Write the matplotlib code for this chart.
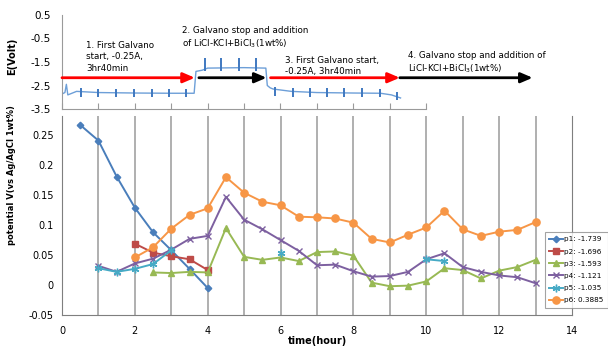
#!/usr/bin/env python3
"""potential_vs_time.py"""

# Potential of six probes vs. time, with the galvano E(Volt) trace inset on top

import numpy as np
import matplotlib
matplotlib.use("Agg")
import matplotlib.pyplot as plt

nan = np.nan

# Main chart data (time in hours, potential in V)
p1_time = [0.5, 1, 1.5, 2, 2.5, 3, 3.5, 4]
p1_vals = [0.267, 0.241, 0.181, 0.129, 0.088, 0.058, 0.027, -0.005]

p2_time = [2, 2.5, 3, 3.5, 4]
p2_vals = [0.069, 0.054, 0.048, 0.043, 0.025]

p3_time = [2.5, 3, 3.5, 4, 4.5, 5, 5.5, 6, 6.5, 7, 7.5, 8, 8.5, 9, 9.5, 10,
           10.5, 11, 11.5, 12, 12.5, 13]
p3_vals = [0.021, 0.020, 0.022, 0.021, 0.095, 0.047, 0.042, 0.046, 0.040,
           0.055, 0.056, 0.049, 0.004, -0.002, -0.001, 0.006, 0.028, 0.025,
           0.011, 0.024, 0.030, 0.042]

p4_time = [1, 1.5, 2, 2.5, 3, 3.5, 4, 4.5, 5, 5.5, 6, 6.5, 7, 7.5, 8, 8.5,
           9, 9.5, 10, 10.5, 11, 11.5, 12, 12.5, 13]
p4_vals = [0.032, 0.022, 0.036, 0.044, 0.059, 0.077, 0.082, 0.147, 0.109,
           0.093, 0.075, 0.057, 0.033, 0.034, 0.023, 0.014, 0.015, 0.022,
           0.043, 0.053, 0.030, 0.022, 0.016, 0.013, 0.003]

p5_time = [1, 1.5, 2, 2.5, 3, 3.5, 6, 6.5, 10, 10.5]
p5_vals = [0.028, 0.022, 0.027, 0.035, 0.058, nan, 0.054, nan, 0.043, 0.040]

p6_time = [2, 2.5, 3, 3.5, 4, 4.5, 5, 5.5, 6, 6.5, 7, 7.5, 8, 8.5, 9, 9.5,
           10, 10.5, 11, 11.5, 12, 12.5, 13]
p6_vals = [0.046, 0.063, 0.094, 0.117, 0.128, 0.180, 0.154, 0.139, 0.133,
           0.114, 0.113, 0.111, 0.104, 0.077, 0.071, 0.084, 0.096, 0.124,
           0.093, 0.082, 0.089, 0.092, 0.105]

series_labels = ["p1: -1.739", "p2: -1.696", "p3: -1.593",
                 "p4: -1.121", "p5: -1.035", "p6: 0.3885"]

# Inset E(Volt) trace, read at its corners
e_time = [0, 0.08, 0.12, 0.16, 0.4, 1.0, 2.0, 3.0, 3.63, 3.68, 3.85, 4.0,
          5.0, 5.6, 5.64, 5.72, 5.8, 6.3, 7.0, 8.0, 8.75, 9.05, 9.3]
e_volt = [-2.86, -2.8, -2.45, -2.9, -2.75, -2.8, -2.82, -2.83, -2.83, -1.9,
          -1.85, -1.76, -1.74, -1.76, -2.5, -2.6, -2.65, -2.75, -2.8, -2.82,
          -2.83, -2.9, -3.03]

# Short blips on the trace
blip_time = [0.52, 1.0, 1.48, 1.98, 2.46, 2.94, 3.42, 3.93, 4.38, 4.87, 5.34,
             5.85, 6.35, 6.8, 7.27, 7.75, 8.24, 8.73, 9.19]
blip_low = [-3.0, -3.0, -3.0, -3.0, -3.0, -3.0, -3.0, -1.9, -1.9, -1.9, -1.9,
            -2.95, -2.97, -2.97, -2.97, -2.97, -2.97, -3.0, -3.12]
blip_high = [-2.62, -2.64, -2.66, -2.66, -2.66, -2.66, -2.66, -1.32, -1.32,
             -1.32, -1.32, -2.58, -2.6, -2.6, -2.6, -2.6, -2.62, -2.66, -2.78]

# Process steps (start hour, end hour, colour, text, text x, text top)
steps = [
    (0.0, 3.65, "red", "1. First Galvano\nstart, -0.25A,\n3hr40min", 0.66, -0.62),
    (3.76, 5.62, "black", "2. Galvano stop and addition\nof LiCl-KCl+BiCl$_3$(1wt%)", 3.29, 0.02),
    (5.73, 9.28, "red", "3. First Galvano start,\n-0.25A, 3hr40min", 6.12, -1.25),
    (9.28, 12.93, "black", "4. Galvano stop and addition of\nLiCl-KCl+BiCl$_3$(1wt%)", 9.5, -1.02),
]
arrow_level = -2.17


def draw_main(ax) -> None:
    """Potential vs time for the six probes"""
    styles = [
        (p1_time, p1_vals, "#4A7EBB", "D", 3.3),
        (p2_time, p2_vals, "#BE4B48", "s", 4.2),
        (p3_time, p3_vals, "#98B954", "^", 4.6),
        (p4_time, p4_vals, "#7D60A0", "x", 4.6),
        (p5_time, p5_vals, "#46AAC5", (6, 2, 0), 5.5),
        (p6_time, p6_vals, "#F79646", "o", 5.2),
    ]
    for (t, v, col, mk, ms), lab in zip(styles, series_labels):
        ax.plot(t, v, color=col, marker=mk, markersize=ms, linewidth=1.4,
                markeredgewidth=1.0, label=lab, zorder=3)

    ax.set_xlim(0, 14)
    ax.set_ylim(-0.05, 0.282)
    ax.set_xticks(range(0, 15, 2))
    ax.set_yticks([-0.05, 0, 0.05, 0.1, 0.15, 0.2, 0.25])
    ax.set_yticklabels(["-0.05", "0", "0.05", "0.1", "0.15", "0.2", "0.25"])
    ax.tick_params(axis="y", length=0, labelsize=7, pad=6)
    ax.tick_params(axis="x", length=0, labelsize=7, pad=8)

    # vertical grid lines every hour
    for h in range(1, 14):
        ax.axvline(h, color="#9a9a9a", linewidth=1.1, zorder=1)

    for side in ["left", "bottom", "right"]:
        ax.spines[side].set_color("#7f7f7f")
    ax.spines["top"].set_visible(False)

    ax.set_xlabel("time(hour)", fontsize=7, fontweight="bold", labelpad=0)

    leg = ax.legend(loc="upper left", bbox_to_anchor=(545 / 608, 1 - 232 / 347),
                    bbox_transform=plt.gcf().transFigure, fontsize=5.2,
                    frameon=True, fancybox=False, borderpad=0.6,
                    labelspacing=0.85, handlelength=1.9, handletextpad=0.2,
                    borderaxespad=0)
    leg.get_frame().set_edgecolor("#8c8c8c")
    leg.get_frame().set_linewidth(0.8)


def draw_inset(ax) -> None:
    """Galvano E(Volt) trace with the process arrows"""
    ax.plot(e_time, e_volt, color="#6d9fd8", linewidth=1.0)
    ax.vlines(blip_time, blip_low, blip_high, color="#3f78c0", linewidth=1.4)

    ax.set_xlim(0, 10)
    ax.set_ylim(-3.5, 0.5)
    ax.set_xticks(range(0, 11))
    ax.set_xticklabels([])
    ax.set_yticks([0.5, -0.5, -1.5, -2.5, -3.5])
    ax.set_yticklabels(["0.5", "-0.5", "-1.5", "-2.5", "-3.5"])
    ax.tick_params(axis="x", direction="in", length=4, color="#9a9a9a")
    ax.tick_params(axis="y", length=0, labelsize=7.5, pad=8)
    ax.spines["top"].set_visible(False)
    ax.spines["right"].set_visible(False)
    ax.spines["left"].set_color("#9a9a9a")
    ax.spines["bottom"].set_color("#9a9a9a")

    for start, end, col, txt, tx, ty in steps:
        ax.annotate("", xy=(end, arrow_level), xytext=(start, arrow_level),
                    arrowprops=dict(arrowstyle="-|>,head_length=0.7,head_width=0.3",
                                    color=col, linewidth=2.0,
                                    shrinkA=0, shrinkB=0),
                    annotation_clip=False)
        ax.text(tx, ty, txt, fontsize=6.3, ha="left", va="top",
                linespacing=1.3, clip_on=False)


def main() -> None:
    fig = plt.figure(figsize=(6.08, 3.47), dpi=100)

    ax_main = fig.add_axes([62 / 608, 1 - 315 / 347, 510 / 608, 199 / 347])
    draw_main(ax_main)

    ax_e = fig.add_axes([62 / 608, 1 - 109 / 347, 364 / 608, 94 / 347])
    draw_inset(ax_e)

    fig.text(12 / 608, 1 - 175 / 347, "potential V(vs Ag/AgCl 1wt%)",
             rotation=90, fontsize=6, fontweight="bold", ha="center", va="center")
    fig.text(12 / 608, 1 - 56 / 347, "E(Volt)", rotation=90, fontsize=7,
             fontweight="bold", ha="center", va="center")

    fig.savefig("out.png", dpi=100)


if __name__ == "__main__":
    main()
